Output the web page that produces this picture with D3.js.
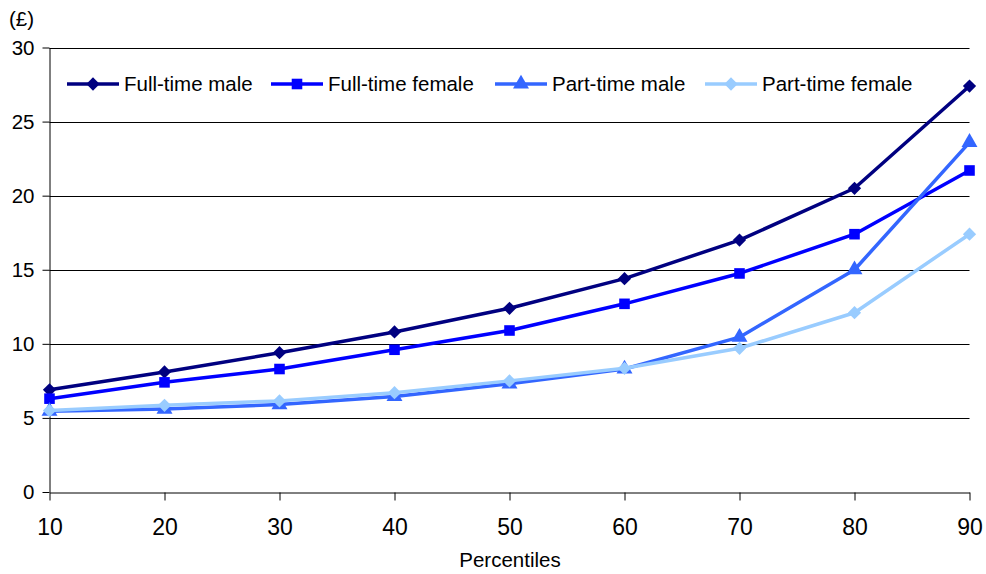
<!DOCTYPE html>
<html><head><meta charset="utf-8">
<script src="https://cdn.jsdelivr.net/npm/d3@7"></script>
<style>
html,body{margin:0;padding:0;background:#fff;}
text{font-family:"Liberation Sans",Arial,sans-serif;fill:#000;}
</style></head>
<body><svg id="c" width="986" height="574"></svg>
<script>
const percentiles = [10,20,30,40,50,60,70,80,90];
const fullTimeMale   = [6.9, 8.1, 9.4, 10.8, 12.4, 14.4, 17.0, 20.5, 27.4];
const fullTimeFemale = [6.3, 7.4, 8.3, 9.6, 10.9, 12.7, 14.75, 17.4, 21.7];
const partTimeMale   = [5.45, 5.6, 5.9, 6.45, 7.3, 8.3, 10.45, 15.0, 23.6];
const partTimeFemale = [5.5, 5.85, 6.15, 6.7, 7.5, 8.35, 9.7, 12.1, 17.4];
const seriesNames = ["Full-time male","Full-time female","Part-time male","Part-time female"];
const yTicks = [0,5,10,15,20,25,30];

const series = [
  {name:seriesNames[0], values:fullTimeMale,   color:"#000080", marker:"diamond"},
  {name:seriesNames[1], values:fullTimeFemale, color:"#0000ff", marker:"square"},
  {name:seriesNames[2], values:partTimeMale,   color:"#3366ff", marker:"triangle"},
  {name:seriesNames[3], values:partTimeFemale, color:"#99ccff", marker:"diamond"}
];

const svg = d3.select("#c");
const x = d3.scalePoint().domain(percentiles).range([49.5, 969.5]);
const y = d3.scaleLinear().domain([0,30]).range([492, 47.5]);

// gridlines
svg.append("g").selectAll("line").data(yTicks.filter(d=>d>0)).join("line")
  .attr("x1",49.5).attr("x2",969.5)
  .attr("y1",d=>Math.round(y(d))+0.5).attr("y2",d=>Math.round(y(d))+0.5)
  .attr("stroke","#000").attr("stroke-width",1);

// y axis
const ya = svg.append("g").attr("transform","translate(49.5,0)")
  .call(d3.axisLeft(y).tickValues(yTicks).tickSize(7).tickPadding(8).tickSizeOuter(0));
ya.select(".domain").attr("stroke","#000");
ya.selectAll(".tick line").attr("stroke","#000");
ya.selectAll("text").style("font-size","20.5px").attr("font-family",null).attr("fill","#000");

// x axis
const xa = svg.append("g").attr("transform","translate(0,492.5)")
  .call(d3.axisBottom(x).tickSize(8).tickPadding(18).tickSizeOuter(0));
xa.select(".domain").attr("stroke","#000");
xa.selectAll(".tick line").attr("stroke","#000");
xa.selectAll("text").style("font-size","23px").attr("fill","#000");

// labels
svg.append("text").attr("x",9).attr("y",26).style("font-size","20.5px").text("(£)");
svg.append("text").attr("x",510).attr("y",567).attr("text-anchor","middle").style("font-size","20.5px").text("Percentiles");

function symPath(m){
  if(m==="diamond") return d3.symbol().type(d3.symbolSquare).size(88)();
  if(m==="square") return d3.symbol().type(d3.symbolSquare).size(112)();
  return d3.symbol().type(d3.symbolTriangle).size(110)();
}

const line = d3.line().x((d,i)=>x(percentiles[i])).y(d=>y(d));

series.forEach(s=>{
  const g = svg.append("g");
  g.append("path").attr("d",line(s.values)).attr("fill","none")
    .attr("stroke",s.color).attr("stroke-width",3.5).attr("stroke-linejoin","round");
  g.selectAll("path.m").data(s.values).join("path").attr("class","m")
    .attr("d",symPath(s.marker))
    .attr("transform",(d,i)=>`translate(${x(percentiles[i])},${y(d)})`+(s.marker==="diamond"?" rotate(45)":""))
    .attr("fill",s.color);
});

// legend
const legendX = [67, 271, 495, 705];
series.forEach((s,i)=>{
  const g = svg.append("g").attr("transform",`translate(${legendX[i]},84)`);
  g.append("line").attr("x1",0).attr("x2",52).attr("y1",0).attr("y2",0)
    .attr("stroke",s.color).attr("stroke-width",3.5);
  g.append("path").attr("d",symPath(s.marker))
    .attr("transform","translate(26,0)"+(s.marker==="diamond"?" rotate(45)":""))
    .attr("fill",s.color);
  g.append("text").attr("x",57).attr("y",7).style("font-size","20.5px").text(s.name);
});
</script></body></html>
